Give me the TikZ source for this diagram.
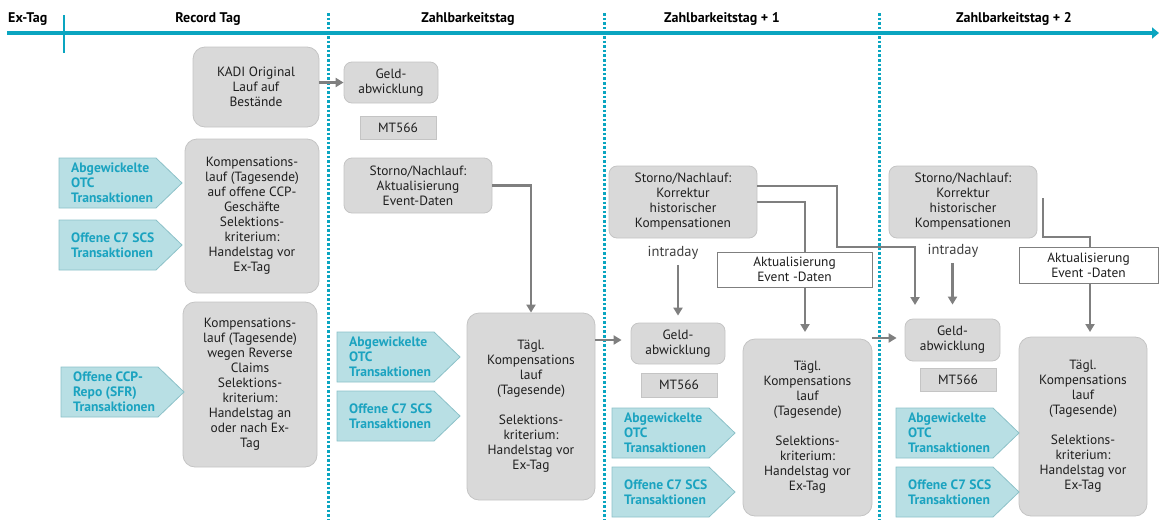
\documentclass[tikz,border=0pt]{standalone}
\usepackage{fontspec}
\setmainfont{PT Sans}
\usetikzlibrary{arrows.meta,calc}
\definecolor{tl}{HTML}{0AA5C0}
\definecolor{boxfill}{HTML}{D9D9D9}
\definecolor{boxline}{HTML}{C4C4C4}
\definecolor{cyfill}{HTML}{B8DFE4}
\definecolor{cyline}{HTML}{8CC1C8}
\definecolor{cytext}{HTML}{1BA3C0}
\definecolor{arr}{HTML}{7F7F7F}
\definecolor{txt}{HTML}{1E1E1E}
\tikzset{
  gbox/.style={draw=boxline, fill=boxfill, rounded corners=12pt, align=center, text=txt,
    font=\fontsize{13.4}{15}\selectfont, inner sep=0pt, line width=0.8pt},
  sbox/.style={gbox, rounded corners=8pt},
  rbox/.style={gbox, sharp corners},
  wbox/.style={gbox, sharp corners, fill=white, draw=arr},
  cyshape/.style={fill=cyfill, draw=cyline, line width=0.8pt},
  cytxt/.style={align=left, text=cytext, font=\bfseries\fontsize{13.6}{15}\selectfont, inner sep=0pt},
  head/.style={font=\bfseries\fontsize{14}{16}\selectfont, text=black, inner sep=0pt},
  dotl/.style={draw=tl, line width=3pt, dash pattern=on 2.6pt off 2pt},
  gline/.style={draw=arr, line width=2.2pt},
  garrow/.style={gline, -{Triangle[length=8pt,width=9pt]}},
  intra/.style={font=\fontsize{14.5}{15}\selectfont, text=txt!85, inner sep=1pt}
}
\newcommand\cyarr[4]{%
  \filldraw[cyshape] (#2,#3) -- ++(97,0) -- ++(26,25) -- ++(-26,25) -- ++(-97,0) -- cycle;
  \node[cytxt, anchor=west] (#1) at ({#2+12},{#3+25}) {#4};
}
\begin{document}
\begin{tikzpicture}[x=1pt,y=-1pt]
\useasboundingbox (0,0) rectangle (1159,520);
% dotted separators
\draw[dotl] (328,13) -- (328,520);
\draw[dotl] (604,13) -- (604,520);
\draw[dotl] (879,13) -- (879,520);
% timeline
\coordinate (tls) at (7,33);
\coordinate (tle) at (1159,33);
\draw[draw=tl, line width=4.5pt, -{Triangle[length=7pt,width=11pt]}] (tls) -- (tle);
\coordinate (tka) at (64,15);
\coordinate (tkb) at (64,53);
\draw[draw=tl, line width=2.5pt] (tka) -- (tkb);
% headers
\node[head, anchor=west] (hex) at (8,19) {Ex-Tag};
\node[head] (hrec) at (208,19) {Record Tag};
\node[head] (hz0) at (468,19) {Zahlbarkeitstag};
\node[head] (hz1) at (722,19) {Zahlbarkeitstag + 1};
\node[head] (hz2) at (1014,19) {Zahlbarkeitstag + 2};
% Record Tag column
\node[gbox, minimum width=126pt, minimum height=80pt] (kadi) at (256,87) {KADI Original\\Lauf auf\\Bestände};
\node[gbox, minimum width=134pt, minimum height=154pt] (komp1) at (252,216) {Kompensations-\\lauf (Tagesende)\\auf offene CCP-\\Geschäfte\\Selektions-\\kriterium:\\Handelstag vor\\Ex-Tag};
\node[gbox, minimum width=134pt, minimum height=165pt] (komp2) at (250,384.5) {Kompensations-\\lauf (Tagesende)\\wegen Reverse\\Claims\\Selektions-\\kriterium:\\Handelstag an\\oder nach Ex-\\Tag};
\cyarr{a1}{59}{158}{Abgewickelte\\OTC\\Transaktionen}
\cyarr{b1}{59}{220}{Offene C7 SCS\\Transaktionen}
\cyarr{c1}{61}{367}{Offene CCP-\\Repo (SFR)\\Transaktionen}
% Zahlbarkeitstag column
\node[sbox, minimum width=94pt, minimum height=41pt] (geld1) at (391,82.5) {Geld-\\abwicklung};
\node[rbox, minimum width=76pt, minimum height=23pt] (mt1) at (398,127.5) {MT566};
\node[sbox, minimum width=148pt, minimum height=55pt] (storno1) at (418,185.5) {Storno/Nachlauf:\\Aktualisierung\\Event-Daten};
\node[gbox, minimum width=128pt, minimum height=187pt] (tagl1) at (531,406.5) {Tägl.\\Kompensations\\lauf\\(Tagesende)\\[15pt]Selektions-\\kriterium:\\Handelstag vor\\Ex-Tag};
\cyarr{a2}{337}{332}{Abgewickelte\\OTC\\Transaktionen}
\cyarr{b2}{337}{391}{Offene C7 SCS\\Transaktionen}
% Zahlbarkeitstag + 1
\node[sbox, minimum width=148pt, minimum height=72pt] (storno2) at (683,202) {Storno/Nachlauf:\\Korrektur\\historischer\\Kompensationen};
\node[intra] (intr1) at (673,253) {intraday};
\node[wbox, minimum width=155pt, minimum height=35pt] (akt1) at (794.5,269.5) {Aktualisierung\\Event -Daten};
\node[sbox, minimum width=94pt, minimum height=41pt] (geld2) at (678,343.5) {Geld-\\abwicklung};
\node[rbox, minimum width=76pt, minimum height=24pt] (mt2) at (679,385) {MT566};
\node[gbox, minimum width=129pt, minimum height=177pt] (tagl2) at (807.5,427.5) {Tägl.\\Kompensations\\lauf\\(Tagesende)\\[15pt]Selektions-\\kriterium:\\Handelstag vor\\Ex-Tag};
\cyarr{a3}{612}{408}{Abgewickelte\\OTC\\Transaktionen}
\cyarr{b3}{612}{467}{Offene C7 SCS\\Transaktionen}
% Zahlbarkeitstag + 2
\node[sbox, minimum width=148pt, minimum height=72pt] (storno3) at (963,202) {Storno/Nachlauf:\\Korrektur\\historischer\\Kompensationen};
\node[intra] (intr2) at (953,251) {intraday};
\node[wbox, minimum width=139pt, minimum height=36pt] (akt2) at (1088.5,265) {Aktualisierung\\Event -Daten};
\node[sbox, minimum width=95pt, minimum height=42pt] (geld3) at (952.5,340) {Geld-\\abwicklung};
\node[rbox, minimum width=76pt, minimum height=23pt] (mt3) at (958,379.5) {MT566};
\node[gbox, minimum width=128pt, minimum height=179pt] (tagl3) at (1083,426.5) {Tägl.\\Kompensations\\lauf\\(Tagesende)\\[15pt]Selektions-\\kriterium:\\Handelstag vor\\Ex-Tag};
\cyarr{a4}{896}{408}{Abgewickelte\\OTC\\Transaktionen}
\cyarr{b4}{896}{467}{Offene C7 SCS\\Transaktionen}
% connectors
\draw[garrow] (kadi.east |- geld1.west) -- (geld1.west);
\draw[garrow] (storno1.east) -| (tagl1.north);
\draw[garrow, shorten >=9pt] (tagl1.east |- 0,340) -- (geld2.west |- 0,340);
\draw[garrow, shorten >=8pt] (tagl2.east |- 0,338) -- (geld3.west |- 0,338);
\draw[garrow, shorten <=4pt, shorten >=7pt] (intr1.south -| geld2.north) -- (geld2.north);
\draw[garrow, shorten <=4pt, shorten >=14pt] (intr2.south -| geld3.north) -- (geld3.north);
% Storno day+1 upper route
\coordinate (j1) at (837,247);
\coordinate (e1) at (915,305);
\draw[garrow] ($(storno2.east)+(0,-16)$) -| (j1) -| (e1);
% Storno day+1 lower route through Aktualisierung
\draw[gline] (storno2.east) -| (805,252);
\draw[garrow] (805,287) -- (805,332);
% day+2 route
\coordinate (s3) at (1043,198);
\coordinate (j3) at (1090,237);
\draw[gline] (s3) |- (j3) -- (j3 |- akt2.north);
\draw[garrow] (j3 |- akt2.south) -- (1090,332);
\end{tikzpicture}
\end{document}
